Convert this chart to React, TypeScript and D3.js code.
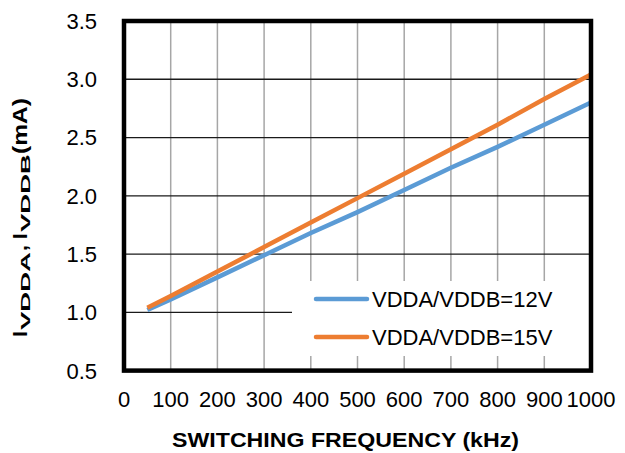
import React from "react";
import * as d3 from "d3";

const freqs = [50, 100, 200, 300, 400, 500, 600, 700, 800, 900, 1000];
const series12V = [1.02, 1.11, 1.30, 1.49, 1.68, 1.86, 2.05, 2.24, 2.42, 2.61, 2.80];
const series15V = [1.04, 1.14, 1.35, 1.56, 1.77, 1.98, 2.19, 2.40, 2.61, 2.83, 3.04];
const xTicks = [0, 100, 200, 300, 400, 500, 600, 700, 800, 900, 1000];
const yTicks = [0.5, 1.0, 1.5, 2.0, 2.5, 3.0, 3.5];
const seriesNames = ["VDDA/VDDB=12V", "VDDA/VDDB=15V"];
const seriesColors = ["#5B9BD5", "#ED7D31"];
const xTitle = "SWITCHING FREQUENCY (kHz)";

const W = 625;
const H = 453;
const left = 124;
const right = 591;
const top = 21;
const bottom = 370.6;
const FONT = "'Liberation Sans', Arial, sans-serif";

export default function App() {
  const x = d3.scaleLinear().domain([0, 1000]).range([left, right]);
  const y = d3.scaleLinear().domain([0.5, 3.5]).range([bottom, top]);
  const line = d3
    .line<[number, number]>()
    .x((d) => x(d[0]))
    .y((d) => y(d[1]));
  const data = [series12V, series15V].map((s) =>
    freqs.map((f, i) => [f, s[i]] as [number, number])
  );

  return (
    <svg
      width={W}
      height={H}
      style={{ position: "absolute", left: 0, top: 0, background: "#fff" }}
      fontFamily={FONT}
    >
      <rect x={0} y={0} width={W} height={H} fill="#fff" />
      {/* vertical gridlines */}
      {xTicks.slice(1, -1).map((t) => (
        <line
          key={"vx" + t}
          x1={x(t)}
          x2={x(t)}
          y1={top}
          y2={bottom}
          stroke="#a6a6a6"
          strokeWidth={1.5}
        />
      ))}
      {/* horizontal gridlines */}
      {yTicks.slice(1, -1).map((t) => (
        <line
          key={"hy" + t}
          x1={left}
          x2={right}
          y1={y(t)}
          y2={y(t)}
          stroke="#1a1a1a"
          strokeWidth={1.3}
        />
      ))}
      {/* series */}
      {data.map((d, i) => (
        <path
          key={"s" + i}
          d={line(d) || ""}
          fill="none"
          stroke={seriesColors[i]}
          strokeWidth={4.5}
          strokeLinecap="butt"
        />
      ))}
      {/* legend */}
      <rect x={292} y={281} width={right - 292} height={75} fill="#fff" />
      {seriesNames.map((n, i) => (
        <g key={"l" + i}>
          <line
            x1={316}
            x2={367}
            y1={299 + i * 38}
            y2={299 + i * 38}
            stroke={seriesColors[i]}
            strokeWidth={4.5}
            strokeLinecap="round"
          />
          <text
            x={372}
            y={299 + i * 38}
            dy="0.35em"
            fontSize={22}
            fill="#000"
          >
            {n}
          </text>
        </g>
      ))}
      {/* frame */}
      <rect
        x={left}
        y={top}
        width={right - left}
        height={bottom - top}
        fill="none"
        stroke="#000"
        strokeWidth={4.5}
      />
      {/* y tick labels */}
      {yTicks.map((t) => (
        <text
          key={"yt" + t}
          x={97}
          y={y(t)}
          dy="0.36em"
          textAnchor="end"
          fontSize={22}
          fill="#000"
        >
          {t.toFixed(1)}
        </text>
      ))}
      {/* x tick labels */}
      {xTicks.map((t) => (
        <text
          key={"xt" + t}
          x={x(t)}
          y={407}
          textAnchor="middle"
          fontSize={22}
          fill="#000"
        >
          {t}
        </text>
      ))}
      {/* x title */}
      <text
        x={172}
        y={447}
        fontSize={21}
        fontWeight="bold"
        fill="#000"
        textLength={347}
        lengthAdjust="spacingAndGlyphs"
      >
        {xTitle}
      </text>
      {/* y title */}
      <g
        transform="translate(27,337) rotate(-90)"
        fontWeight="bold"
        fill="#000"
      >
        <text x={0} y={0} fontSize={21}>I</text>
        <text
          x={7}
          y={3}
          fontSize={13}
          textLength={78}
          lengthAdjust="spacingAndGlyphs"
        >
          VDDA
        </text>
        <text x={86} y={0} fontSize={21}>, I</text>
        <text
          x={105}
          y={3}
          fontSize={13}
          textLength={78}
          lengthAdjust="spacingAndGlyphs"
        >
          VDDB
        </text>
        <text
          x={183}
          y={0}
          fontSize={21}
          textLength={56}
          lengthAdjust="spacingAndGlyphs"
        >
          {" (mA)"}
        </text>
      </g>
    </svg>
  );
}
